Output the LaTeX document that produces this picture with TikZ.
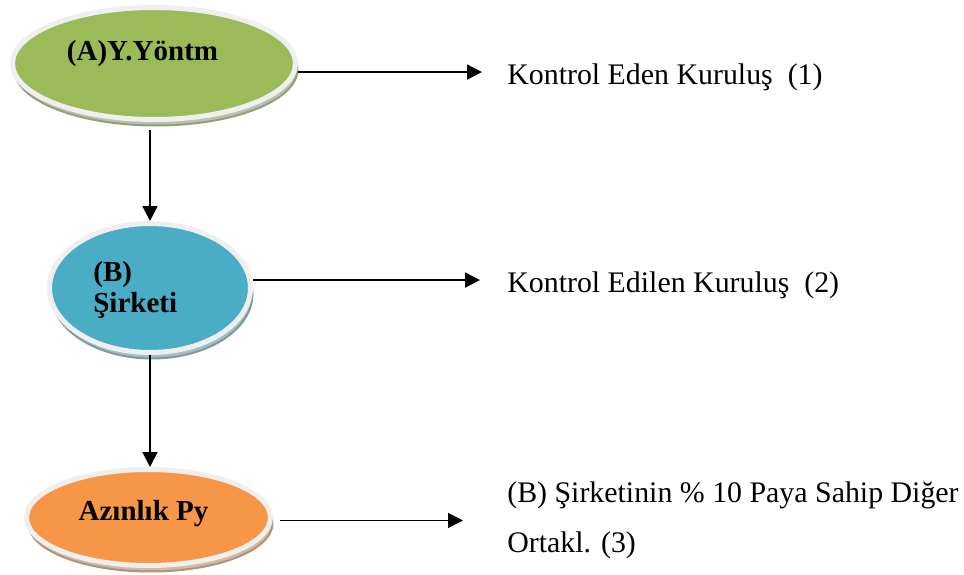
\documentclass[tikz,border=0pt]{standalone}
\usepackage{fontspec}
\setmainfont{Liberation Serif}
\usetikzlibrary{shapes.geometric,arrows.meta}

\definecolor{ygreen}{HTML}{9BBB59}
\definecolor{bblue}{HTML}{4BACC6}
\definecolor{corange}{HTML}{F79646}
\definecolor{rimgray}{HTML}{EFEFEF}

\tikzset{
  oval/.style={ellipse, draw=rimgray, line width=0.1cm, inner sep=0pt},
  shad/.style={preaction={fill=#1!45!gray!60, draw=#1!50!black!60, line width=0.04cm,
      transform canvas={xshift=0.04cm,yshift=-0.12cm}}},
  arr/.style={-{Triangle[length=0.3cm,width=0.3cm]}, line width=1pt},
  btxt/.style={font=\fontsize{16.5}{17.6}\selectfont\bfseries, inner sep=0pt},
  ktxt/.style={font=\fontsize{17}{28.3}\selectfont, inner sep=0pt},
}

\begin{document}
\begin{tikzpicture}[x=0.02cm,y=-0.02cm]
\useasboundingbox (0,0) rectangle (964,575);

% ovals
\node[oval, shad=ygreen, fill=ygreen, minimum width=5.66cm, minimum height=2.24cm] (A) at (154,63.5) {};
\node[oval, shad=bblue, fill=bblue, minimum width=4.02cm, minimum height=2.58cm] (B) at (150,288) {};
\node[oval, shad=corange, fill=corange, minimum width=4.88cm, minimum height=1.92cm] (C) at (148.5,517.5) {};

\node[btxt, anchor=base] (Atxt) at (142.5,60) {(A)Y.Yöntm};
\node[btxt, anchor=west, align=left] (Btxt) at (93,290) {(B)\\Şirketi};
\node[btxt, anchor=base] (Ctxt) at (143.5,520) {Azınlık Py};

% right hand texts
\node[ktxt, anchor=base west, text height=13.6pt, text depth=0pt] (k1) at (507,84) {Kontrol Eden Kuruluş\ \ (1)};
\node[ktxt, anchor=base west, text height=13.6pt, text depth=0pt] (k2) at (507,292) {Kontrol Edilen Kuruluş\ \ (2)};
\node[ktxt, anchor=west, align=left] (k3) at (507,520.5) {(B) Şirketinin \% 10 Paya Sahip Diğer\\Ortakl. (3)};

% arrows
\draw[arr, shorten >=0.5cm] (A.east |- k1.west) -- (k1.west);
\draw[arr, shorten >=0.54cm] (B.east |- k2.west) -- (k2.west);
\draw[arr, shorten <=0.14cm, shorten >=0.88cm] (C.east |- k3.west) -- (k3.west);

\draw[arr, shorten <=0.16cm] (A.south -| B.north) -- (B.north);
\draw[arr] (B.south) -- (B.south |- C.north);
\end{tikzpicture}
\end{document}
